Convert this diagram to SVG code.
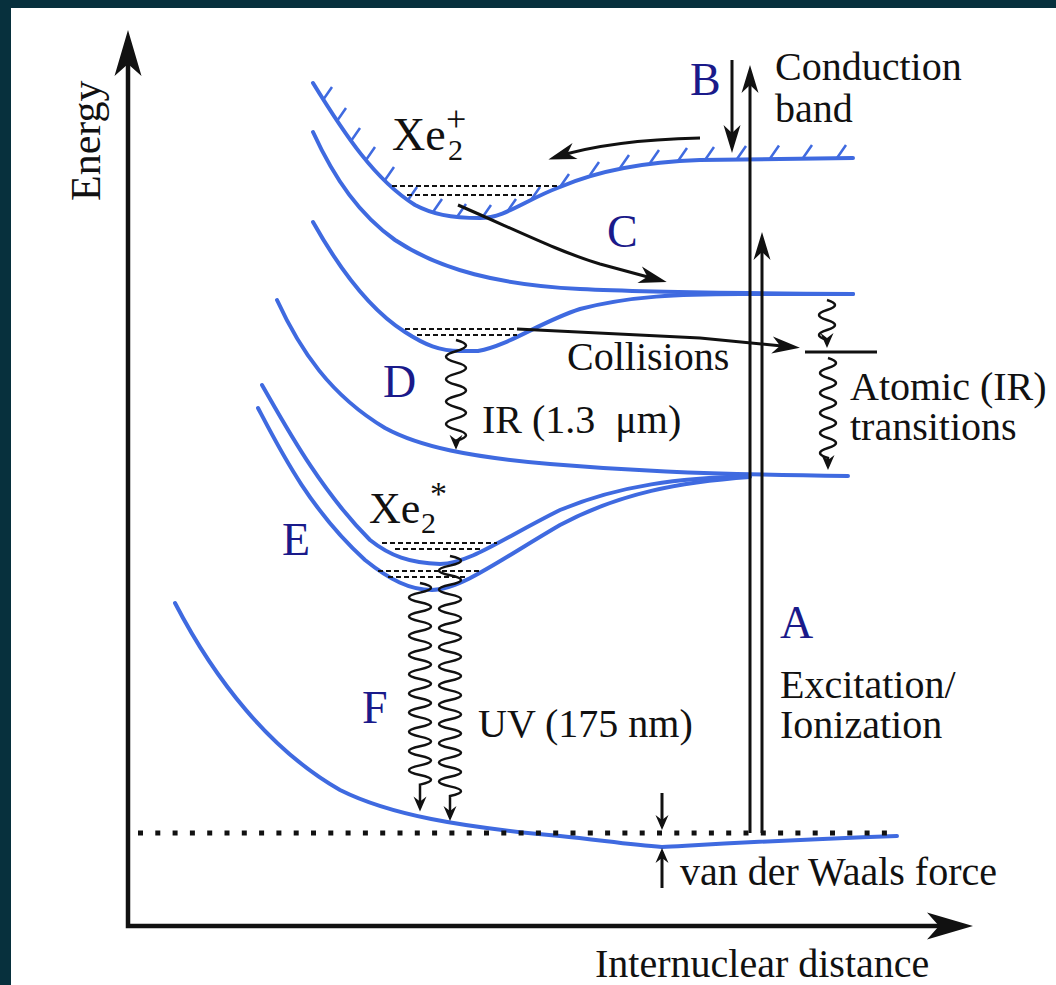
<svg xmlns="http://www.w3.org/2000/svg" width="1056" height="985" viewBox="0 0 1056 985">
<style>
.t{font-family:"Liberation Serif","Times New Roman",serif;font-size:40px;fill:#111}
.xe{font-family:"Liberation Serif","Times New Roman",serif;font-size:46px;fill:#111}
.sb{font-size:30px}
.lb{font-family:"Liberation Serif","Times New Roman",serif;font-size:46px;fill:#1a1a8a}
.cv{fill:none;stroke:#3f6ae0;stroke-width:4;stroke-linecap:round;stroke-linejoin:round}
.k{fill:none;stroke:#111;stroke-width:3}
.w{fill:none;stroke:#111;stroke-width:2.5}
.ds{fill:none;stroke:#111;stroke-width:1.8;stroke-dasharray:5 3}
</style>
<defs>
<marker id="mBig" markerUnits="userSpaceOnUse" markerWidth="60" markerHeight="40" viewBox="-50 -20 60 40" refX="-20" refY="0" orient="auto-start-reverse" overflow="visible">
<path d="M0,0 L-46,-13.5 L-34,0 L-46,13.5 Z" fill="#111"/>
</marker>
<marker id="mMed" markerUnits="userSpaceOnUse" markerWidth="40" markerHeight="20" viewBox="-30 -10 40 20" refX="-8" refY="0" orient="auto" overflow="visible">
<path d="M0,0 L-28,-8.5 L-20,0 L-28,8.5 Z" fill="#111"/>
</marker>
<marker id="mSm" markerUnits="userSpaceOnUse" markerWidth="24" markerHeight="16" viewBox="-18 -8 24 16" refX="-4" refY="0" orient="auto" overflow="visible">
<path d="M0,0 L-15,-6.5 L-10,0 L-15,6.5 Z" fill="#111"/>
</marker>
</defs>
<rect x="0" y="0" width="1056" height="985" fill="#07303d"/>
<rect x="11" y="8" width="1045" height="977" fill="#ffffff"/>

<g id="axes">
<path d="M128,50 L128,926 L953,926" fill="none" stroke="#111" stroke-width="4.5" marker-start="url(#mBig)" marker-end="url(#mBig)"/>
<text class="t" style="font-size:42px" transform="translate(100,201) rotate(-90)">Energy</text>
<text class="t" x="595" y="977">Internuclear distance</text>
</g>

<g id="curve-ion">
<path class="cv" d="M313,83 C345,135 375,180 415,205 C432,214 450,218 480,218 C505,218 525,200 560,187 C595,172 640,162 700,160 L853,158"/>
<path fill="none" stroke="#3f6ae0" stroke-width="2.5" d="M323,100 l9,-13 M337,121 l9,-13 M351,141 l9,-13 M366,160 l9,-13 M385,180 l9,-13 M408,200 l9,-13 M433,212 l9,-13 M457,217 l9,-13 M482,218 l9,-13 M507,212 l9,-13 M531,200 l9,-13 M560,187 l9,-13 M590,175 l9,-13 M620,168 l9,-13 M650,163 l9,-13 M678,161 l9,-13 M705,160 l9,-13 M737,159 l9,-13 M770,158.5 l9,-13 M803,158 l9,-13 M837,158 l9,-13"/>
<path class="ds" d="M392,186 L557,186 M407,195 L533,195"/>
<text class="xe" x="392" y="150">Xe<tspan class="sb" x="448" y="160">2</tspan><tspan style="font-size:36px" x="446" y="131">+</tspan></text>
</g>

<g id="curve-c">
<path class="cv" d="M313,132 C335,180 360,215 395,240 C440,270 500,285 580,289 C640,292 700,293 853,294"/>
</g>

<g id="curve-d">
<path class="cv" d="M313,222 C340,270 370,310 405,332 C425,345 440,351 460,351 L478,351 C510,345 540,322 580,309 C630,296 680,294 740,294 L853,294"/>
<path class="ds" d="M405,329 L517,329 M417,335 L517,335"/>
</g>

<g id="curve-lowd">
<path class="cv" d="M277,300 C300,350 330,395 385,428 C420,447 470,457 550,464 C620,470 690,474 848,476"/>
</g>

<g id="curve-e">
<path class="cv" d="M262,385 C285,425 320,490 370,540 C390,556 410,563 440,564 C470,563 500,540 560,510 C620,485 680,478 750,476"/>
<path class="cv" d="M258,408 C280,450 310,510 365,560 C390,580 410,590 432,590 C460,590 500,560 560,525 C620,493 680,482 750,477"/>
<path class="ds" d="M382,543 L497,543 M395,549 L483,549 M378,571 L480,571 M388,577 L468,577"/>
<text class="xe" style="font-size:44px" x="369" y="523">Xe<tspan class="sb" x="421" y="533">2</tspan><tspan style="font-size:34px" x="430" y="505">*</tspan></text>
</g>

<g id="curve-f">
<path class="cv" d="M175,603 C215,680 270,750 340,790 C390,815 460,827 560,836 C600,840 630,845 662,847 C700,845 760,841 897,836"/>
<path fill="none" stroke="#111" stroke-width="5" stroke-dasharray="5 12.3" d="M138,833 L897,833"/>
</g>

<g id="connectors">
<path class="k" d="M750,833 L750,73" marker-end="url(#mMed)"/>
<path class="k" d="M762,833 L762,240" marker-end="url(#mMed)"/>
<path class="k" d="M732,60 L732,145" marker-end="url(#mMed)"/>
<path class="k" d="M700,138 Q610,140 556,157" marker-end="url(#mMed)"/>
<path class="k" d="M458,205 C520,232 560,252 600,264 L659,280" marker-end="url(#mMed)"/>
<path class="k" d="M517,329 L700,338 L792,347" marker-end="url(#mMed)"/>
<path class="k" d="M805,352 L877,352"/>
<path class="w" d="M456,340 q20,5.6 0,11.2 t0,11.2 t0,11.2 t0,11.2 t0,11.2 t0,11.2 t0,11.2 t0,11.2 t0,11.2 v5" marker-end="url(#mSm)"/>
<path class="w" d="M827,300 q16,5 0,10 t0,10 t0,10 t0,10 v4" marker-end="url(#mSm)"/>
<path class="w" d="M828,358 q16,5 0,10 t0,10 t0,10 t0,10 t0,10 t0,10 t0,10 t0,10 t0,10 t0,10 v8" marker-end="url(#mSm)"/>
<path class="w" d="M420,583 q22,4.8 0,9.6 t0,9.6 t0,9.6 t0,9.6 t0,9.6 t0,9.6 t0,9.6 t0,9.6 t0,9.6 t0,9.6 t0,9.6 t0,9.6 t0,9.6 t0,9.6 t0,9.6 t0,9.6 t0,9.6 t0,9.6 t0,9.6 t0,9.6 t0,9.6 v23" marker-end="url(#mSm)"/>
<path class="w" d="M450,556 q22,4.8 0,9.6 t0,9.6 t0,9.6 t0,9.6 t0,9.6 t0,9.6 t0,9.6 t0,9.6 t0,9.6 t0,9.6 t0,9.6 t0,9.6 t0,9.6 t0,9.6 t0,9.6 t0,9.6 t0,9.6 t0,9.6 t0,9.6 t0,9.6 t0,9.6 t0,9.6 t0,9.6 t0,9.6 t0,9.6 v21" marker-end="url(#mSm)"/>
<path class="k" stroke-width="2.5" d="M662,793 L662,826" marker-end="url(#mSm)"/>
<path class="k" stroke-width="2.5" d="M662,888 L662,852" marker-end="url(#mSm)"/>
</g>

<g id="labels">
<text class="lb" x="690" y="95">B</text>
<text class="lb" x="607" y="247">C</text>
<text class="lb" x="383" y="397">D</text>
<text class="lb" x="282" y="555">E</text>
<text class="lb" x="362" y="723">F</text>
<text class="lb" x="780" y="638">A</text>
<text class="t" x="775" y="80">Conduction<tspan x="775" y="122">band</tspan></text>
<text class="t" x="567" y="370">Collisions</text>
<text class="t" x="482" y="433" xml:space="preserve">IR (1.3  μm)</text>
<text class="t" x="850" y="400">Atomic (IR)<tspan x="850" y="440">transitions</tspan></text>
<text class="t" x="478" y="737">UV (175 nm)</text>
<text class="t" x="780" y="698">Excitation/<tspan x="780" y="738">Ionization</tspan></text>
<text class="t" x="680" y="885">van der Waals force</text>
</g>
</svg>
